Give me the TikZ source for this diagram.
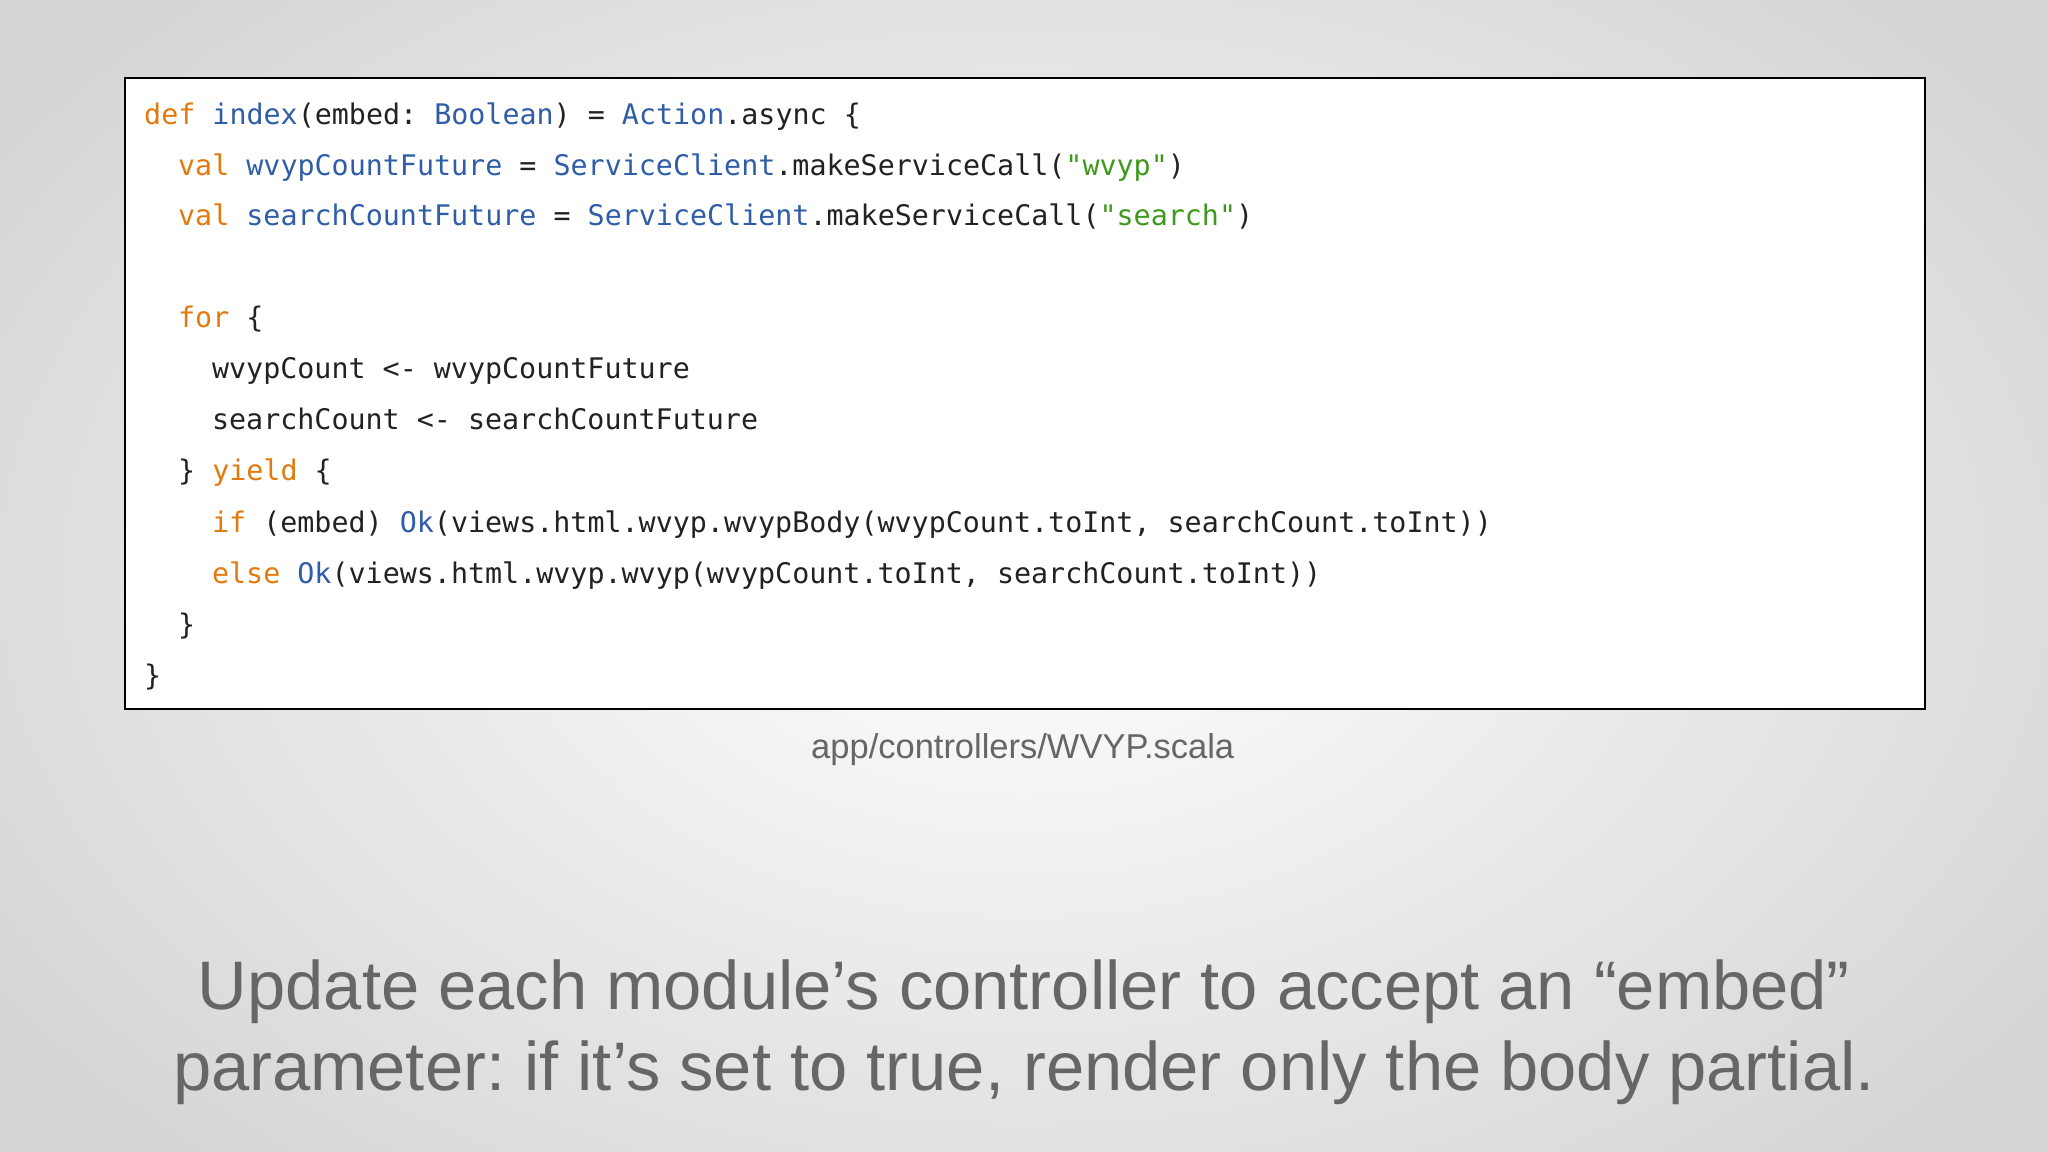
\documentclass[tikz,border=0pt]{standalone}
\usepackage{fontspec}
\setmainfont{Liberation Sans}
\newfontfamily\codefont{DejaVu Sans Mono}
\definecolor{kw}{HTML}{E27A0E}
\definecolor{ty}{HTML}{2F5DA8}
\definecolor{st}{HTML}{3E9A1C}
\definecolor{tx}{HTML}{222222}
\definecolor{gr}{HTML}{666666}
\frenchspacing
\begin{document}
\begin{tikzpicture}[x=0.5pt,y=-0.5pt,
  code/.style={anchor=base west,inner sep=0,font=\codefont\fontsize{10.85}{12}\selectfont,text=tx},
  captext/.style={inner sep=0,text=gr}]
\useasboundingbox (0,0) rectangle (1568,882);
\shade[inner color=white,outer color=black!17] (-200,-200) rectangle (1768,1082);
\node[draw=black,line width=0.8pt,fill=white,minimum width=689pt,minimum height=241.5pt,inner sep=0,anchor=north west] (box) at (95,59) {};
\node[code] (l1) at (110,95) {\color{kw}def \color{ty}index\color{tx}(embed: \color{ty}Boolean\color{tx}) = \color{ty}Action\color{tx}.async \{};
\node[code] (l2) at (136,134) {\color{kw}val \color{ty}wvypCountFuture \color{tx}= \color{ty}ServiceClient\color{tx}.makeServiceCall(\color{st}"wvyp"\color{tx})};
\node[code] (l3) at (136,173) {\color{kw}val \color{ty}searchCountFuture \color{tx}= \color{ty}ServiceClient\color{tx}.makeServiceCall(\color{st}"search"\color{tx})};
\node[code] (l5) at (136,251) {\color{kw}for \color{tx}\{};
\node[code] (l6) at (162,290) {wvypCount <- wvypCountFuture};
\node[code] (l7) at (162,329) {searchCount <- searchCountFuture};
\node[code] (l8) at (136,368) {\} \color{kw}yield \color{tx}\{};
\node[code] (l9) at (162,408) {\color{kw}if \color{tx}(embed) \color{ty}Ok\color{tx}(views.html.wvyp.wvypBody(wvypCount.toInt, searchCount.toInt))};
\node[code] (l10) at (162,447) {\color{kw}else \color{ty}Ok\color{tx}(views.html.wvyp.wvyp(wvypCount.toInt, searchCount.toInt))};
\node[code] (l11) at (136,486) {\}};
\node[code] (l12) at (110,525) {\}};
\node[captext,font=\fontsize{13.2}{15}\selectfont,anchor=base] (fn) at (783,581) {app/controllers/WVYP.scala};
\node[captext,font=\fontsize{26.3}{31}\selectfont,anchor=base] (t1) at (784,773) {Update each module’s controller to accept an “embed”};
\node[captext,font=\fontsize{26.3}{31}\selectfont,anchor=base] (t2) at (784,835) {parameter: if it’s set to true, render only the body partial.};
\end{tikzpicture}
\end{document}
